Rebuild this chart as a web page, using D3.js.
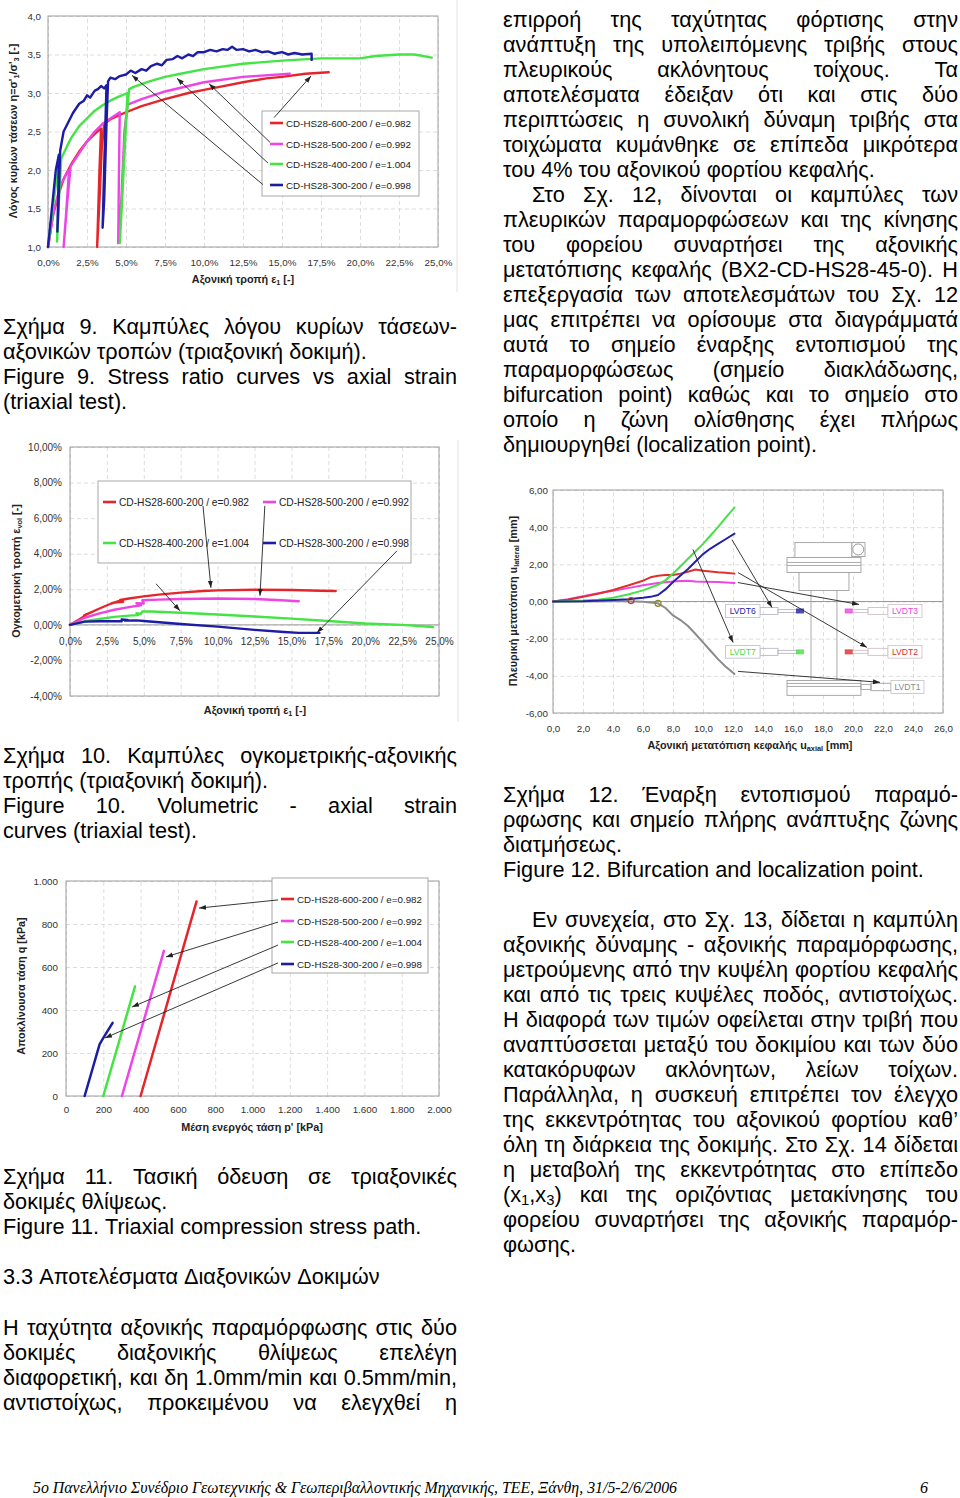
<!DOCTYPE html>
<html><head><meta charset="utf-8">
<script src="https://cdn.jsdelivr.net/npm/d3@7"></script>
<style>
html,body{margin:0;padding:0;background:#fff;}
svg{display:block;}
</style></head><body>
<script>
// ================= DATA =================
const seriesLabels = ["CD-HS28-600-200 / e=0.982","CD-HS28-500-200 / e=0.992","CD-HS28-400-200 / e=1.004","CD-HS28-300-200 / e=0.998"];

// Fig 9 : stress ratio vs axial strain (%)
const fig9XTicks = [0,2.5,5,7.5,10,12.5,15,17.5,20,22.5,25];
const fig9YTicks = [1,1.5,2,2.5,3,3.5,4];
const fig9_600 = [[0,1.0],[0.3,1.4],[0.7,1.7],[1.0,1.88],[1.5,2.08],[2.0,2.24],[2.5,2.37],[3.0,2.47],[3.4,2.54],[3.3,2.0],[3.15,1.0],[3.3,1.6],[3.45,2.3],[3.6,2.6],[4.0,2.66],[5.0,2.75],[6.0,2.83],[7.5,2.92],[9.0,3.0],[10.0,3.04],[11.0,3.08],[12.5,3.14],[14.0,3.19],[15.0,3.21],[16.5,3.25],[18.0,3.27]];
const fig9_500 = [[0,1.0],[0.4,1.5],[0.8,1.8],[1.2,1.96],[1.35,2.0],[1.15,1.4],[1.0,1.0],[1.2,1.5],[1.45,2.05],[2.0,2.22],[2.5,2.37],[3.0,2.5],[3.5,2.6],[4.0,2.67],[4.6,2.75],[4.55,2.0],[4.5,1.05],[4.7,1.6],[4.9,2.5],[5.1,2.85],[6.0,2.92],[7.5,3.02],[10.0,3.14],[12.5,3.21],[15.5,3.25]];
const fig9_400 = [[0,1.0],[0.3,1.5],[0.6,1.95],[0.75,2.1],[0.65,1.5],[0.58,1.07],[0.7,1.6],[0.85,2.15],[1.2,2.3],[1.5,2.42],[2.0,2.57],[2.5,2.67],[3.0,2.77],[3.5,2.84],[4.0,2.9],[4.5,2.95],[5.1,3.0],[4.9,2.3],[4.6,1.05],[4.75,1.6],[5.0,2.6],[5.2,3.05],[5.5,3.08],[6.5,3.15],[7.5,3.21],[8.5,3.25],[10.0,3.31],[12.5,3.38],[15.0,3.42],[17.5,3.45],[19.0,3.45],[20.0,3.45],[21.0,3.48],[22.5,3.5],[23.5,3.5],[24.6,3.46]];
const fig9_300 = [[0,1.0],[0.25,1.5],[0.5,2.0],[0.7,2.2],[0.65,1.6],[0.6,1.2],[0.68,1.6],[0.78,2.25],[1.0,2.5],[1.3,2.62],[1.6,2.74],[2.0,2.86],[2.3,2.9],[2.5,2.97],[2.7,2.94],[3.0,3.03],[3.2,3.05],[3.4,3.09],[3.6,3.06],[3.75,3.1],[3.65,2.4],[3.5,1.25],[3.6,1.6],[3.75,2.6],[3.85,3.15],[4.0,3.2],[4.3,3.18],[4.6,3.22],[5.0,3.24],[5.3,3.29],[5.6,3.26],[6.0,3.31],[6.3,3.29],[6.6,3.35],[7.0,3.38],[7.3,3.36],[7.6,3.43],[8.0,3.44],[8.3,3.48],[8.6,3.45],[9.0,3.5],[9.3,3.48],[9.6,3.53],[10.0,3.53],[10.4,3.56],[10.8,3.54],[11.2,3.57],[11.5,3.56],[11.8,3.6],[12.1,3.56],[12.5,3.57],[12.9,3.54],[13.3,3.56],[13.7,3.53],[14.1,3.54],[14.5,3.51],[15.0,3.53],[15.4,3.5],[15.8,3.52],[16.3,3.5],[16.9,3.51],[16.9,3.43]];

// Fig 10 : volumetric strain (%) vs axial strain (%)
const fig10XTicks = [0,2.5,5,7.5,10,12.5,15,17.5,20,22.5,25];
const fig10YTicks = [-4,-2,0,2,4,6,8,10];
const fig10_600 = [[0,0],[0.5,0.25],[1.0,0.5],[1.1,0.6],[0.95,0.52],[1.2,0.62],[2.0,0.92],[2.8,1.2],[3.3,1.33],[3.0,1.25],[3.6,1.3],[3.4,1.4],[4.0,1.48],[5.0,1.6],[6.0,1.7],[7.5,1.81],[9.0,1.9],[10.0,1.94],[12.5,1.97],[15.0,1.96],[17.0,1.92],[18.0,1.9]];
const fig10_500 = [[0,0],[0.5,0.2],[1.0,0.4],[2.0,0.65],[3.0,0.85],[4.0,1.0],[4.8,1.1],[4.5,1.22],[5.0,1.2],[4.9,1.38],[6.0,1.42],[7.5,1.45],[10.0,1.48],[12.5,1.45],[14.0,1.4],[15.5,1.33]];
const fig10_400 = [[0,0],[1.0,0.2],[2.0,0.33],[3.0,0.45],[4.0,0.52],[4.6,0.55],[4.5,0.66],[4.8,0.62],[4.9,0.76],[5.5,0.75],[7.5,0.68],[10.0,0.58],[12.5,0.47],[15.0,0.35],[17.5,0.22],[20.0,0.08],[22.5,0.0],[24.6,-0.12]];
const fig10_300 = [[0,0],[1.0,0.18],[2.0,0.2],[3.0,0.2],[3.5,0.2],[3.5,0.3],[3.9,0.28],[3.7,0.24],[4.5,0.25],[5.0,0.22],[7.5,0.05],[10.0,-0.1],[12.5,-0.28],[14.5,-0.4],[15.5,-0.45],[16.9,-0.45]];

// Fig 11 : stress path q vs p'
const fig11XTicks = [0,200,400,600,800,1000,1200,1400,1600,1800,2000];
const fig11YTicks = [0,200,400,600,800,1000];
const fig11_600 = [[400,0],[700,905]];
const fig11_500 = [[300,0],[525,675]];
const fig11_400 = [[200,0],[370,510]];
const fig11_300 = [[100,0],[150,150],[180,240],[200,270],[250,340]];

// Fig 12 : lateral displacement vs axial head displacement (mm)
const fig12XTicks = [0,2,4,6,8,10,12,14,16,18,20,22,24,26];
const fig12YTicks = [-6,-4,-2,0,2,4,6];
const lvdtNames = ["LVDT2","LVDT3","LVDT7","LVDT6","LVDT1"];
const fig12_LVDT2 = [[0,0],[1,0.1],[2,0.25],[3,0.42],[4,0.62],[5,0.86],[6,1.12],[6.5,1.3],[7,1.38],[7.5,1.42],[8,1.43],[8.5,1.5],[9,1.6],[9.5,1.72],[10,1.66],[10.5,1.62],[11,1.58],[11.5,1.55],[12.1,1.5]];
const fig12_LVDT3 = [[0,0],[1,0.12],[2,0.28],[3,0.45],[4,0.58],[5,0.72],[6,0.87],[7,1.0],[8,1.08],[8.5,1.1],[9,1.12],[9.5,1.07],[10,1.06],[11,1.05],[12.1,1.0]];
const fig12_LVDT7 = [[0,0],[1,0.02],[2,0.05],[3,0.1],[4,0.2],[5,0.38],[6,0.6],[7,0.9],[7.5,1.15],[8,1.5],[8.5,1.9],[9,2.3],[9.5,2.7],[10,3.1],[10.5,3.55],[11,4.0],[11.5,4.5],[12.1,5.05]];
const fig12_LVDT6 = [[0,0],[2,0.02],[4,0.08],[5,0.12],[6,0.2],[6.5,0.25],[7,0.35],[7.5,0.65],[8,1.05],[8.5,1.4],[9,1.75],[9.5,2.15],[10,2.55],[10.5,2.85],[11,3.1],[11.5,3.35],[12.1,3.65]];
const fig12_LVDT1 = [[0,0],[2,0.0],[4,0.02],[5,0.02],[6,-0.02],[7,-0.1],[7.5,-0.35],[8,-0.75],[8.5,-1.0],[9,-1.32],[9.5,-1.75],[10,-2.2],[10.5,-2.65],[11,-3.1],[11.5,-3.5],[12.1,-3.9]];
const fig12Points = [[5.2,0.05],[7.0,-0.1]];

// ================= STYLE =================
const FONT = "'Liberation Sans', Arial, sans-serif";
const seriesColors = ["#e4262c","#ee44e4","#44e444","#1c1ca4"];
const lvdtColors = ["#e0302e","#ea48e0","#48e048","#2222a8","#8c8c8c"];

const svg = d3.select("body").append("svg").attr("width",960).attr("height",1498)
  .attr("font-family",FONT);
svg.append("rect").attr("width",960).attr("height",1498).attr("fill","#fff");
const defs = svg.append("defs");
defs.append("marker").attr("id","ah").attr("viewBox","0 0 10 10").attr("refX",10).attr("refY",5)
  .attr("markerWidth",7).attr("markerHeight",7).attr("markerUnits","userSpaceOnUse").attr("orient","auto")
  .append("path").attr("d","M0,1.5L10,5L0,8.5z").attr("fill","#222");

const loc = d3.formatLocale({decimal:",",thousands:".",grouping:[3],currency:["","€"],minus:"-"});

// "_{..}" marks a subscript; shift = downward offset in px
function rich(sel,str,shift){
  const re=/_\{([^}]*)\}/g; let last=0,m;
  while((m=re.exec(str))){
    if(m.index>last) sel.append("tspan").text(str.slice(last,m.index));
    sel.append("tspan").attr("baseline-shift",-shift).attr("font-size","68%").text(m[1]);
    last=re.lastIndex;
  }
  if(last<str.length) sel.append("tspan").text(str.slice(last));
}

function makeChart(c){
  const x=d3.scaleLinear().domain(c.xd).range([c.L,c.R]);
  const y=d3.scaleLinear().domain(c.yd).range([c.B,c.T]);
  const g=svg.append("g");
  const H=c.B-c.T, Wd=c.R-c.L;
  const gridStyle=a=>{a.select(".domain").remove();a.selectAll("text").remove();
    a.selectAll("line").attr("stroke","#d4d4d4").attr("stroke-width",0.8).attr("stroke-dasharray","4,3");};
  g.append("g").attr("transform",`translate(0,${c.B})`)
    .call(d3.axisBottom(x).tickValues(c.xt).tickSize(-H).tickFormat("")).call(gridStyle);
  g.append("g").attr("transform",`translate(${c.L},0)`)
    .call(d3.axisLeft(y).tickValues(c.yt).tickSize(-Wd).tickFormat("")).call(gridStyle);
  g.append("rect").attr("x",c.L).attr("y",c.T).attr("width",Wd).attr("height",H)
    .attr("fill","none").attr("stroke","#9e9e9e").attr("stroke-width",1);
  if(c.zero) g.append("line").attr("x1",c.L).attr("x2",c.R).attr("y1",y(0)).attr("y2",y(0))
    .attr("stroke","#9a9a9a").attr("stroke-width",1);
  const lab=a=>{a.select(".domain").remove();a.selectAll("line").remove();
    a.attr("font-size",c.fs).attr("font-family",FONT);a.selectAll("text").attr("fill","#333");};
  g.append("g").attr("transform",`translate(0,${c.xAt!=null?y(c.xAt):c.B})`)
    .call(d3.axisBottom(x).tickValues(c.xt).tickSize(0).tickPadding(c.xPad).tickFormat(c.xf)).call(lab);
  g.append("g").attr("transform",`translate(${c.L},0)`)
    .call(d3.axisLeft(y).tickValues(c.yt).tickSize(0).tickPadding(c.yPad).tickFormat(c.yf)).call(lab);
  const xt=g.append("text").attr("x",c.xtX).attr("y",c.xtY).attr("text-anchor","middle")
    .attr("font-weight","bold").attr("font-size",c.tfs).attr("fill","#222");
  rich(xt,c.xTitle,2);
  const yt=g.append("text").attr("transform",`translate(${c.ytX},${c.ytY}) rotate(-90)`).attr("text-anchor","middle")
    .attr("font-weight","bold").attr("font-size",c.tfs).attr("fill","#222");
  rich(yt,c.yTitle,2);
  return {x,y,g};
}
function drawSeries(ch,data,color,w){
  const line=d3.line().x(d=>ch.x(d[0])).y(d=>ch.y(d[1]));
  ch.g.append("path").datum(data).attr("d",line).attr("fill","none").attr("stroke",color)
    .attr("stroke-width",w).attr("stroke-linejoin","round").attr("stroke-linecap","round");
}
function arrow(ch,a,b){
  ch.g.append("line").attr("x1",ch.x(a[0])).attr("y1",ch.y(a[1])).attr("x2",ch.x(b[0])).attr("y2",ch.y(b[1]))
    .attr("stroke","#222").attr("stroke-width",0.9).attr("marker-end","url(#ah)");
}
function legend(ch,box,items,fs){
  ch.g.append("rect").attr("x",box[0]).attr("y",box[1]).attr("width",box[2]-box[0]).attr("height",box[3]-box[1])
    .attr("fill","#fff").attr("stroke","#a8a8a8").attr("stroke-width",1);
  items.forEach((it,i)=>{
    ch.g.append("line").attr("x1",it[0]).attr("x2",it[0]+13).attr("y1",it[1]).attr("y2",it[1])
      .attr("stroke",seriesColors[i]).attr("stroke-width",2.6);
    ch.g.append("text").attr("x",it[0]+16).attr("y",it[1]+3.6).attr("font-size",fs).attr("fill","#222")
      .text(seriesLabels[i]);
  });
}

// ================= FIG 9 =================
const c9 = makeChart({L:48,R:438,T:16,B:247,xd:[0,25],yd:[1,4],xt:fig9XTicks,yt:fig9YTicks,
  xf:d=>loc.format(".1f")(d)+"%",yf:loc.format(".1f"),xPad:12,yPad:7,fs:9.8,
  xTitle:"Αξονική τροπή ε_{1} [-]",xtX:243,xtY:283,yTitle:"Λόγος κυρίων τάσεων η=σ'_{1}/σ'_{3} [-]",ytX:17,ytY:131,tfs:10.8});
[fig9_600,fig9_500,fig9_400,fig9_300].forEach((s,i)=>drawSeries(c9,s,seriesColors[i],2.4));
legend(c9,[262,111,419,196],[[270,123],[270,144],[270,164],[270,185]],9.8);
arrow(c9,[14.49,2.68],[16.86,3.22]);
arrow(c9,[14.23,2.36],[10.32,3.12]);
arrow(c9,[14.1,2.09],[8.27,3.19]);
arrow(c9,[13.78,1.81],[5.38,3.23]);
svg.append("line").attr("x1",457).attr("x2",457).attr("y1",0).attr("y2",292).attr("stroke","#e2e2e2");

// ================= FIG 10 =================
const c10 = makeChart({L:70,R:439,T:447,B:696,xd:[0,25],yd:[-4,10],xt:fig10XTicks,yt:fig10YTicks,zero:true,xAt:0,
  xf:d=>loc.format(".1f")(d)+"%",yf:d=>loc.format(".2f")(d)+"%",xPad:13,yPad:8,fs:10,
  xTitle:"Αξονική τροπή ε_{1} [-]",xtX:255,xtY:714,yTitle:"Ογκομετρική τροπή ε_{vol} [-]",ytX:20,ytY:571,tfs:10.8});
legend(c10,[98,481,411,563],[[103,502],[263,502],[103,543],[263,543]],10.2);
[fig10_600,fig10_500,fig10_400,fig10_300].forEach((s,i)=>drawSeries(c10,s,seriesColors[i],2.4));
arrow(c10,[9.01,6.69],[9.55,2.08]);
arrow(c10,[13.2,6.69],[12.87,1.63]);
arrow(c10,[5.83,2.31],[7.45,0.79]);
arrow(c10,[22.15,4.16],[16.73,-0.45]);
svg.append("line").attr("x1",458).attr("x2",458).attr("y1",440).attr("y2",722).attr("stroke","#e2e2e2");

// ================= FIG 11 =================
const c11 = makeChart({L:66,R:439,T:881,B:1096,xd:[0,2000],yd:[0,1000],xt:fig11XTicks,yt:fig11YTicks,
  xf:loc.format(",d"),yf:loc.format(",d"),xPad:10,yPad:8,fs:9.8,
  xTitle:"Μέση ενεργός τάση p' [kPa]",xtX:252,xtY:1131,yTitle:"Αποκλίνουσα τάση q [kPa]",ytX:25,ytY:986,tfs:10.8});
[fig11_600,fig11_500,fig11_400,fig11_300].forEach((s,i)=>drawSeries(c11,s,seriesColors[i],2.5));
legend(c11,[272,878,428,973],[[281,899],[281,921],[281,942],[281,964]],9.8);
arrow(c11,[1137,912],[713,874]);
arrow(c11,[1137,809],[536,647]);
arrow(c11,[1137,702],[354,414]);
arrow(c11,[1137,619],[209,270]);

// ================= FIG 12 =================
const c12 = makeChart({L:553,R:943,T:490,B:713,xd:[0,26],yd:[-6,6],xt:fig12XTicks,yt:fig12YTicks,zero:true,
  xf:loc.format(".1f"),yf:loc.format(".2f"),xPad:12,yPad:5,fs:9.8,
  xTitle:"Αξονική μετατόπιση κεφαλής u_{axial} [mm]",xtX:750,xtY:749,yTitle:"Πλευρική μετατόπιση u_{lateral} [mm]",ytX:517,ytY:601,tfs:10.8});
// apparatus sketch (in data units)
(function(){
  const x=c12.x,y=c12.y,g=c12.g, st="#a0a0a0";
  const R=(x0,y0,x1,y1,s,f)=>g.append("rect").attr("x",x(x0)).attr("y",y(y0)).attr("width",x(x1)-x(x0)).attr("height",y(y1)-y(y0))
      .attr("fill",f||"none").attr("stroke",s||st).attr("stroke-width",0.9);
  const Ln=(x0,y0,x1,y1,s)=>g.append("line").attr("x1",x(x0)).attr("y1",y(y0)).attr("x2",x(x1)).attr("y2",y(y1)).attr("stroke",s||st).attr("stroke-width",0.9);
  R(16.13,3.17,19.93,2.37,null,"#fff");
  R(19.93,3.17,20.8,2.42,null,"#fff");
  g.append("circle").attr("cx",x(20.35)).attr("cy",y(2.8)).attr("r",5.5).attr("fill","none").attr("stroke","#999").attr("stroke-width",1);
  R(15.6,2.37,20.53,1.56,null,"#fff"); Ln(15.6,2.1,20.53,2.1); Ln(15.6,1.94,20.53,1.94);
  R(16.4,1.56,19.73,0.59,null,"#fff");
  Ln(17.2,0.59,17.2,-4.25); Ln(18.93,0.59,18.93,-4.25);
  R(15.6,-4.25,20.53,-5.05,null,"#fff"); Ln(15.6,-4.41,20.53,-4.41); Ln(15.6,-4.57,20.53,-4.57);
  R(20.53,-4.46,21.2,-4.73); R(21.2,-4.4,22.53,-4.8);
  const left=[[lvdtNames[3],lvdtColors[3],-0.16,-0.86],[lvdtNames[2],lvdtColors[2],-2.37,-3.05]];
  left.forEach(([n,col,t,b])=>{
    const m=(t+b)/2;
    R(13.8,m+0.19,15.0,m-0.19,"#b8b8c8"); R(15.0,m+0.08,16.4,m-0.08,"#b8b8c8");
    g.append("rect").attr("x",x(16.2)).attr("y",y(m)-2.5).attr("width",8).attr("height",5).attr("fill",col).attr("opacity",0.8);
    R(11.5,t,13.8,b,"#c4c4d4","#fff");
    g.append("text").attr("x",(x(11.5)+x(13.8))/2).attr("y",(y(t)+y(b))/2+3).attr("text-anchor","middle")
      .attr("font-size",8.6).attr("fill",col).text(n);
  });
  const right=[[lvdtNames[1],lvdtColors[1],-0.16,-0.86],[lvdtNames[0],lvdtColors[0],-2.37,-3.05]];
  right.forEach(([n,col,t,b])=>{
    const m=(t+b)/2;
    R(21.0,m+0.19,22.33,m-0.19,"#d0c0c8"); R(19.5,m+0.08,21.0,m-0.08,"#d0c0c8");
    g.append("rect").attr("x",x(19.45)).attr("y",y(m)-2.5).attr("width",8).attr("height",5).attr("fill",col).attr("opacity",0.8);
    R(22.33,t,24.6,b,"#d8c4d0","#fff");
    g.append("text").attr("x",(x(22.33)+x(24.6))/2).attr("y",(y(t)+y(b))/2+3).attr("text-anchor","middle")
      .attr("font-size",8.6).attr("fill",col).text(n);
  });
  R(22.53,-4.25,24.73,-4.95,"#c8c8c8","#fff");
  g.append("text").attr("x",(x(22.53)+x(24.73))/2).attr("y",(y(-4.25)+y(-4.95))/2+3).attr("text-anchor","middle")
    .attr("font-size",8.6).attr("fill",lvdtColors[4]).text(lvdtNames[4]);
})();
[fig12_LVDT1,fig12_LVDT3,fig12_LVDT2,fig12_LVDT7,fig12_LVDT6].forEach((s,i)=>{
  const col=[lvdtColors[4],lvdtColors[1],lvdtColors[0],lvdtColors[2],lvdtColors[3]][i];
  drawSeries(c12,s,col,2);
});
c12.g.selectAll("circle.pt").data(fig12Points).join("circle").attr("class","pt")
  .attr("cx",d=>c12.x(d[0])).attr("cy",d=>c12.y(d[1])).attr("r",3)
  .attr("fill","none").attr("stroke",(d,i)=>i?"#8a8a30":"#a04030").attr("stroke-width",1.2);
arrow(c12,[11.93,3.33],[14.6,-0.32]);
arrow(c12,[12.33,1.56],[20.93,-2.47]);
arrow(c12,[12.33,1.02],[20.4,-0.16]);
arrow(c12,[9.33,2.8],[12.0,-2.2]);
arrow(c12,[12.33,-3.76],[21.8,-4.35]);

// ================= BODY TEXT =================
const FS=21.7;
function textBlock(lines,x0,base0,width){
  lines.forEach((ln,k)=>{
    const [str,just,indent]=ln;
    const t=svg.append("text").attr("y",base0+25*k).attr("font-size",FS).attr("fill","#000");
    const words=str.split(" ").filter(w=>w.length);
    const spans=words.map(w=>{const s=t.append("tspan");rich(s,w,3);return s;});
    const widths=spans.map(s=>s.node().getComputedTextLength());
    const total=d3.sum(widths);
    const start=x0+(indent||0), avail=width-(indent||0);
    let gap=(just&&words.length>1)?(avail-total)/(words.length-1):FS*0.278;
    let cx=start;
    spans.forEach((s,i)=>{s.attr("x",cx);cx+=widths[i]+gap;});
  });
}
const IND=29;
textBlock([
 ["επιρροή της ταχύτητας φόρτισης στην",1],
 ["ανάπτυξη της υπολειπόμενης τριβής στους",1],
 ["πλευρικούς ακλόνητους τοίχους. Τα",1],
 ["αποτελέσματα έδειξαν ότι και στις δύο",1],
 ["περιπτώσεις η συνολική δύναμη τριβής στα",1],
 ["τοιχώματα κυμάνθηκε σε επίπεδα μικρότερα",1],
 ["του 4% του αξονικού φορτίου κεφαλής.",0],
 ["Στο Σχ. 12, δίνονται οι καμπύλες των",1,IND],
 ["πλευρικών παραμορφώσεων και της κίνησης",1],
 ["του φορείου συναρτήσει της αξονικής",1],
 ["μετατόπισης κεφαλής (BX2-CD-HS28-45-0). Η",1],
 ["επεξεργασία των αποτελεσμάτων του Σχ. 12",1],
 ["μας επιτρέπει να ορίσουμε στα διαγράμματά",1],
 ["αυτά το σημείο έναρξης εντοπισμού της",1],
 ["παραμορφώσεως (σημείο διακλάδωσης,",1],
 ["bifurcation point) καθώς και το σημείο στο",1],
 ["οποίο η ζώνη ολίσθησης έχει πλήρως",1],
 ["δημιουργηθεί (localization point).",0]
],503,26.5,455);
textBlock([
 ["Σχήμα 9. Καμπύλες λόγου κυρίων τάσεων-",1],
 ["αξονικών τροπών (τριαξονική δοκιμή).",0],
 ["Figure 9. Stress ratio curves vs axial strain",1],
 ["(triaxial test).",0]
],3,334,454);
textBlock([
 ["Σχήμα 10. Καμπύλες ογκομετρικής-αξονικής",1],
 ["τροπής (τριαξονική δοκιμή).",0],
 ["Figure 10. Volumetric - axial strain",1],
 ["curves (triaxial test).",0]
],3,763,454);
textBlock([
 ["Σχήμα 12. Έναρξη εντοπισμού παραμό-",1],
 ["ρφωσης και σημείο πλήρης ανάπτυξης ζώνης",1],
 ["διατμήσεως.",0],
 ["Figure 12. Bifurcation and localization point.",0]
],503,802,455);
textBlock([
 ["Εν συνεχεία, στο Σχ. 13, δίδεται η καμπύλη",1,IND],
 ["αξονικής δύναμης - αξονικής παραμόρφωσης,",1],
 ["μετρούμενης από την κυψέλη φορτίου κεφαλής",1],
 ["και από τις τρεις κυψέλες ποδός, αντιστοίχως.",1],
 ["Η διαφορά των τιμών οφείλεται στην τριβή που",1],
 ["αναπτύσσεται μεταξύ του δοκιμίου και των δύο",1],
 ["κατακόρυφων ακλόνητων, λείων τοίχων.",1],
 ["Παράλληλα, η συσκευή επιτρέπει τον έλεγχο",1],
 ["της εκκεντρότητας του αξονικού φορτίου καθ’",1],
 ["όλη τη διάρκεια της δοκιμής. Στο Σχ. 14 δίδεται",1],
 ["η μεταβολή της εκκεντρότητας στο επίπεδο",1],
 ["(x_{1},x_{3}) και της οριζόντιας μετακίνησης του",1],
 ["φορείου συναρτήσει της αξονικής παραμόρ-",1],
 ["φωσης.",0]
],503,927,455);
textBlock([
 ["Σχήμα 11. Τασική όδευση σε τριαξονικές",1],
 ["δοκιμές θλίψεως.",0],
 ["Figure 11. Triaxial compression stress path.",0]
],3,1184,454);
textBlock([["3.3 Αποτελέσματα Διαξονικών Δοκιμών",0]],3,1284,454);
textBlock([
 ["Η ταχύτητα αξονικής παραμόρφωσης στις δύο",1],
 ["δοκιμές διαξονικής θλίψεως επελέγη",1],
 ["διαφορετική, και δη 1.0mm/min και 0.5mm/min,",1],
 ["αντιστοίχως, προκειμένου να ελεγχθεί η",1]
],3,1335,454);

// footer
svg.append("text").attr("x",33).attr("y",1493).attr("font-family","'Liberation Serif','Times New Roman',serif")
  .attr("font-style","italic").attr("font-size",16).attr("textLength",644).attr("lengthAdjust","spacingAndGlyphs")
  .attr("fill","#000").text("5o Πανελλήνιο Συνέδριο Γεωτεχνικής & Γεωπεριβαλλοντικής Μηχανικής, ΤΕΕ, Ξάνθη, 31/5-2/6/2006");
svg.append("text").attr("x",920).attr("y",1493).attr("font-family","'Liberation Serif','Times New Roman',serif")
  .attr("font-style","italic").attr("font-size",16).attr("fill","#000").text("6");
</script>
</body></html>
